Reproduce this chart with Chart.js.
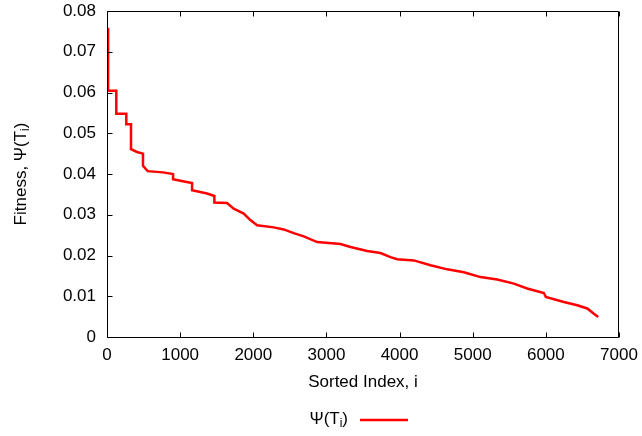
<!DOCTYPE html>
<html>
<head>
<meta charset="utf-8">
<script src="https://cdn.jsdelivr.net/npm/chart.js@4.4.1/dist/chart.umd.min.js"></script>
<style>
  html, body { margin: 0; padding: 0; background: #fff; }
  #wrap { width: 642px; height: 436px; }
</style>
</head>
<body>
<div id="wrap"><canvas id="chart" width="642" height="436"></canvas></div>
<script>
// sorted index (x) and fitness (y); repeated x = vertical step
const sortedIndex = [15, 15, 127, 127, 264, 264, 328, 328, 410, 492, 492, 556, 766, 903, 903,
    1071, 1163, 1163, 1368, 1468, 1468, 1641, 1732, 1869, 1960, 2052, 2280, 2416, 2553, 2690,
    2873, 3192, 3329, 3557, 3739, 3876, 3967, 4195, 4423, 4651, 4879, 5107, 5335, 5563, 5745,
    5973, 6000, 6246, 6429, 6566, 6657, 6716];
const fitness = [0.0759, 0.0604, 0.0604, 0.0548, 0.0548, 0.0522, 0.0522, 0.0461, 0.0454, 0.0450, 0.0420, 0.0407, 0.0404, 0.0400, 0.0387,
    0.0381, 0.0378, 0.0360, 0.0352, 0.0346, 0.0330, 0.0329, 0.0315, 0.0303, 0.0287, 0.0274, 0.0269, 0.0264, 0.0255, 0.0247,
    0.0233, 0.0228, 0.0221, 0.0211, 0.0206, 0.0196, 0.0191, 0.0188, 0.0176, 0.0166, 0.0159, 0.0147, 0.0141, 0.0131, 0.0119,
    0.0108, 0.0098, 0.0086, 0.0078, 0.0070, 0.0057, 0.0049];

const xTicks = [0, 1000, 2000, 3000, 4000, 5000, 6000, 7000];
const yTicks = [0, 0.01, 0.02, 0.03, 0.04, 0.05, 0.06, 0.07, 0.08];
const yTickLabels = ["0", "0.01", "0.02", "0.03", "0.04", "0.05", "0.06", "0.07", "0.08"];

const FONT = '"Liberation Sans", Arial, sans-serif';
const RED = "#ff0000";

// draws text pieces, some as subscript
function drawRich(ctx, parts, x, y, align) {
    const big = "17px " + FONT, small = "12px " + FONT;
    let total = 0;
    parts.forEach(p => { ctx.font = p.sub ? small : big; total += ctx.measureText(p.t).width; });
    let cx = align === "right" ? x - total : (align === "left" ? x : x - total / 2);
    ctx.textAlign = "left";
    ctx.textBaseline = "middle";
    parts.forEach(p => {
        ctx.font = p.sub ? small : big;
        ctx.fillText(p.t, cx, p.sub ? y + 5 : y);
        cx += ctx.measureText(p.t).width;
    });
}

// gnuplot-like frame: box, inward ticks, tick labels, titles, key
const frame = {
    id: "frame",
    afterDraw(chart) {
        const { ctx, chartArea: a, scales } = chart;
        const xs = scales.x, ys = scales.y;
        const L = Math.round(a.left) + 0.5, R = Math.round(a.right) - 0.5;
        const T = Math.round(a.top) + 0.5, B = Math.round(a.bottom) + 0.5;
        ctx.save();
        ctx.strokeStyle = "#000";
        ctx.lineWidth = 1;
        ctx.beginPath();
        ctx.moveTo(L, T); ctx.lineTo(R, T); ctx.lineTo(R, B); ctx.lineTo(L, B); ctx.closePath();
        xTicks.forEach(v => {
            const px = Math.round(xs.getPixelForValue(v)) + 0.5;
            ctx.moveTo(px, B); ctx.lineTo(px, B - 5);
            ctx.moveTo(px, T); ctx.lineTo(px, T + 5);
        });
        yTicks.forEach(v => {
            const py = Math.round(ys.getPixelForValue(v)) + 0.5;
            ctx.moveTo(L, py); ctx.lineTo(L + 5, py);
        });
        ctx.stroke();

        ctx.fillStyle = "#000";
        ctx.font = "17px " + FONT;
        ctx.textBaseline = "middle";
        ctx.textAlign = "center";
        xTicks.forEach(v => ctx.fillText(String(v), xs.getPixelForValue(v), 355));
        ctx.textAlign = "right";
        yTicks.forEach((v, i) => ctx.fillText(yTickLabels[i], a.left - 11, ys.getPixelForValue(v)));

        drawRich(ctx, [{ t: "Sorted Index, i" }], (a.left + a.right) / 2, 382, "center");

        ctx.save();
        ctx.translate(21, 174);
        ctx.rotate(-Math.PI / 2);
        drawRich(ctx, [{ t: "Fitness, \u03A8(T" }, { t: "i", sub: true }, { t: ")" }], 0, 0, "center");
        ctx.restore();

        // key
        drawRich(ctx, [{ t: "\u03A8(T" }, { t: "i", sub: true }, { t: ")" }], 348, 419, "right");
        ctx.strokeStyle = RED;
        ctx.lineWidth = 2.5;
        ctx.beginPath();
        ctx.moveTo(360, 420); ctx.lineTo(408, 420);
        ctx.stroke();
        ctx.restore();
    }
};

new Chart(document.getElementById("chart"), {
    type: "line",
    data: {
        datasets: [{
            label: "\u03A8(Ti)",
            data: sortedIndex.map((x, i) => ({ x, y: fitness[i] })),
            borderColor: RED,
            borderWidth: 2.5,
            pointRadius: 0,
            tension: 0,
            fill: false,
        }],
    },
    options: {
        responsive: false,
        animation: false,
        layout: { padding: { left: 0, top: 11, right: 23, bottom: 0 } },
        plugins: { legend: { display: false }, tooltip: { enabled: false } },
        scales: {
            x: {
                type: "linear",
                min: 0,
                max: 7000,
                afterFit: (s) => { s.height = 99; },
                grid: { display: false },
                border: { display: false },
                ticks: { display: false },
            },
            y: {
                type: "linear",
                min: 0,
                max: 0.08,
                afterFit: (s) => { s.width = 107; },
                grid: { display: false },
                border: { display: false },
                ticks: { display: false },
            },
        },
    },
    plugins: [frame],
});
</script>
</body>
</html>
